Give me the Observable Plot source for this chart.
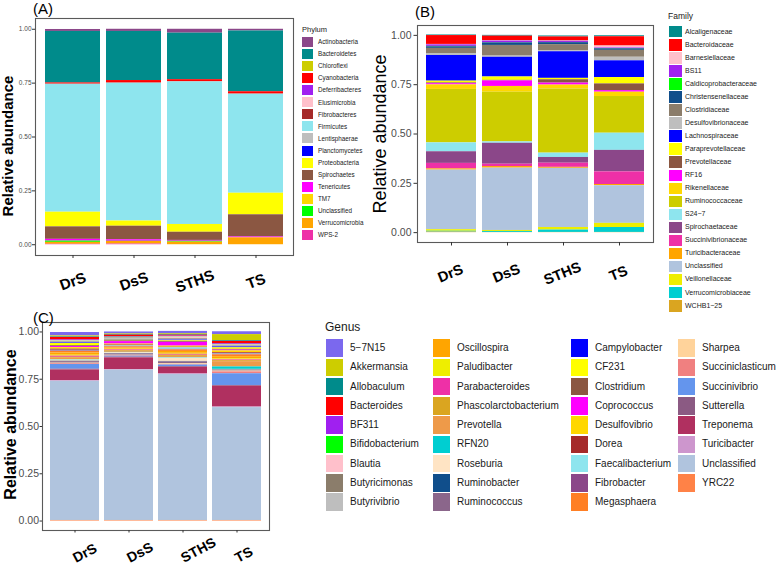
<!DOCTYPE html>
<html>
<head>
<meta charset="utf-8">
<script src="https://cdn.jsdelivr.net/npm/d3@7"></script>
<script src="https://cdn.jsdelivr.net/npm/@observablehq/plot@0.6"></script>
<style>
  html, body { margin: 0; padding: 0; background: #fff; }
  #root { position: relative; width: 778px; height: 569px; overflow: hidden; background: #fff;
          font-family: "Liberation Sans", Arial, sans-serif; }
  .lbl { position: absolute; white-space: nowrap; color: #1a1a1a; }
  .sw { position: absolute; }
</style>
</head>
<body>
<div id="root"></div>
<script>
const FONT = "Liberation Sans, Arial, sans-serif";
const groups = ["DrS", "DsS", "STHS", "TS"];

// ---------- Panel A: Phylum ----------
const phyla = ["Actinobacteria","Bacteroidetes","Chloroflexi","Cyanobacteria","Deferribacteres","Elusimicrobia",
  "Fibrobacteres","Firmicutes","Lentisphaerae","Planctomycetes","Proteobacteria","Spirochaetes","Tenericutes",
  "TM7","Unclassified","Verrucomicrobia","WPS-2"];
const phylumColors = ["#8B4789","#008B8B","#CDCD00","#FF0000","#A020F0","#FFC0CB","#A52A2A","#8EE5EE","#BEBEBE",
  "#0000FF","#FFFF00","#8B5742","#FF00FF","#FFD700","#00FF00","#FFA500","#EE30A7"];
const phylumDrS  = [0.009,0.239,0,0.006,0,0,0,0.594,0,0,0.068,0.058,0.008,0,0.006,0.009,0.002];
const phylumDsS  = [0.010,0.228,0,0.012,0,0,0,0.640,0,0,0.024,0.063,0.007,0,0.001,0.012,0.003];
const phylumSTHS = [0.018,0.216,0,0.010,0,0,0,0.662,0,0,0.036,0.038,0.004,0,0.004,0.012,0];
const phylumTS   = [0.008,0.282,0,0.011,0,0,0,0.460,0,0,0.100,0.103,0.004,0,0,0.032,0];

// ---------- Panel B: Family ----------
const families = ["Alcaligenaceae","Bacteroidaceae","Barnesiellaceae","BS11","Caldicoprobacteraceae",
  "Christensenellaceae","Clostridiaceae","Desulfovibrionaceae","Lachnospiraceae","Paraprevotellaceae",
  "Prevotellaceae","RF16","Rikenellaceae","Ruminococcaceae","S24\u22127","Spirochaetaceae","Succinivibrionaceae",
  "Turicibacteraceae","Unclassified","Veillonellaceae","Verrucomicrobiaceae","WCHB1\u221225"];
const familyColors = ["#008B8B","#FF0000","#FFC0CB","#A020F0","#00FF00","#104E8B","#8B7D6B","#BEBEBE","#0000FF",
  "#FFFF00","#8B5742","#FF00FF","#FFD700","#CDCD00","#8EE5EE","#8B4789","#EE30A7","#FFA500","#B0C4DE",
  "#EEEE00","#00CED1","#DAA520"];
const familyDrS  = [0.003,0.045,0.002,0.008,0.002,0.008,0.026,0.010,0.130,0.009,0.004,0.006,0.023,0.271,0.045,0.059,0.028,0.006,0.302,0.008,0.004,0.003];
const familyDsS  = [0.004,0.023,0.002,0.008,0.001,0.013,0.054,0.006,0.100,0.017,0.003,0.028,0.029,0.252,0.007,0.106,0.012,0.008,0.316,0.005,0.005,0.001];
const familySTHS = [0.005,0.020,0.002,0.006,0.001,0.010,0.030,0.006,0.135,0.007,0.017,0.010,0.020,0.325,0.022,0.029,0.021,0.005,0.300,0.013,0.012,0.001];
const familyTS   = [0.005,0.047,0.010,0.003,0.001,0.008,0.035,0.018,0.085,0.032,0.034,0.008,0.022,0.186,0.087,0.109,0.064,0.006,0.191,0.021,0.025,0.001];

// ---------- Panel C: Genus (stack order, top first) ----------
const genera = ["5\u22127N15","Akkermansia","Allobaculum","Bacteroides","BF311","Bifidobacterium","Blautia",
  "Butyricimonas","Butyrivibrio","Campylobacter","CF231","Clostridium","Coprococcus","Desulfovibrio","Dorea",
  "Faecalibacterium","Fibrobacter","Megasphaera","Oscillospira","Paludibacter","Parabacteroides",
  "Phascolarctobacterium","Prevotella","RFN20","Roseburia","Ruminobacter","Ruminococcus","Sharpea",
  "Succiniclasticum","Succinivibrio","Sutterella","Treponema","Turicibacter","Unclassified","YRC22"];
const genusColors = ["#7B68EE","#CDCD00","#008B8B","#FF0000","#A020F0","#00FF00","#FFC0CB","#8B7D6B","#BEBEBE",
  "#0000FF","#FFFF00","#8B5742","#FF00FF","#FFD700","#A52A2A","#8EE5EE","#8B4789","#FF7F24","#FFA500",
  "#EEEE00","#EE30A7","#DAA520","#EE9A49","#00CED1","#FFE4C4","#104E8B","#8B668B","#FFD39B","#F08080",
  "#6495ED","#8B5A83","#B03060","#CD96CD","#B0C4DE","#FF8247"];
const genusDrS  = [0.018,0.005,0.003,0.013,0.003,0.002,0.003,0.004,0.004, 0.003,0.012,0.004,0.006,0.008,0.006,0.003,0.003,0.008,
                   0.012,0.005,0.006,0.005,0.008,0.002,0.006,0.002,0.008, 0.003,0.004,0.025,0.004,0.057,0.003,0.736,0.003];
const genusDsS  = [0.010,0.003,0.004,0.008,0.003,0.002,0.002,0.005,0.003, 0.003,0.004,0.004,0.013,0.005,0.005,0.003,0.002,0.006,
                   0.006,0.004,0.004,0.004,0.005,0.002,0.004,0.002,0.007, 0.002,0.003,0.005,0.004,0.062,0.003,0.795,0.003];
const genusSTHS = [0.012,0.004,0.004,0.005,0.003,0.002,0.008,0.004,0.004, 0.004,0.004,0.004,0.020,0.006,0.003,0.008,0.003,0.008,
                   0.010,0.005,0.005,0.006,0.006,0.003,0.018,0.002,0.010, 0.004,0.003,0.008,0.004,0.035,0.003,0.772,0.003];
const genusTS   = [0.015,0.032,0.004,0.012,0.004,0.002,0.003,0.004,0.004, 0.005,0.008,0.004,0.004,0.010,0.004,0.003,0.004,0.010,
                   0.012,0.005,0.004,0.005,0.028,0.013,0.003,0.002,0.004, 0.004,0.010,0.062,0.004,0.110,0.003,0.597,0.003];
// Legend layout of the genus key (column by column, as shown)
const genusLegendCols = [
  ["5\u22127N15","Akkermansia","Allobaculum","Bacteroides","BF311","Bifidobacterium","Blautia","Butyricimonas","Butyrivibrio"],
  ["Oscillospira","Paludibacter","Parabacteroides","Phascolarctobacterium","Prevotella","RFN20","Roseburia","Ruminobacter","Ruminococcus"],
  ["Campylobacter","CF231","Clostridium","Coprococcus","Desulfovibrio","Dorea","Faecalibacterium","Fibrobacter","Megasphaera"],
  ["Sharpea","Succiniclasticum","Succinivibrio","Sutterella","Treponema","Turicibacter","Unclassified","YRC22"]
];

const yTicks = [0, 0.25, 0.5, 0.75, 1];
const yTitle = "Relative abundance";

const root = document.getElementById("root");

function table(taxa, byGroup) {
  const out = [];
  groups.forEach((g, gi) => taxa.forEach((t, i) => out.push({group: g, taxon: t, value: byGroup[gi][i]})));
  return out;
}

function panel(o) {
  const svg = Plot.plot({
    width: o.width, height: o.height,
    marginLeft: o.ml, marginRight: o.mr, marginTop: o.mt, marginBottom: o.mb,
    style: {fontFamily: FONT, background: "transparent", overflow: "visible"},
    x: {domain: groups, paddingInner: 0.1, paddingOuter: 0.15},
    y: {domain: [-0.05, 1.05]},
    color: {domain: o.taxa, range: o.colors},
    marks: [
      Plot.barY(o.data, Plot.stackY({x: "group", y: "value", fill: "taxon", order: o.taxa.slice().reverse()})),
      Plot.frame({stroke: "#5a5a5a", strokeWidth: 1.1}),
      Plot.axisY({ticks: yTicks, tickFormat: d3.format(".2f"), tickSize: o.tick, tickPadding: o.yPad,
                  fontSize: o.yFont, stroke: "#333", fill: "#4d4d4d", label: null}),
      Plot.axisX({tickSize: o.tick, stroke: "#333", fill: "none", label: null}),
      Plot.text(groups, {x: d => d, y: -0.05, text: d => d, rotate: o.xRot, dx: o.xDx, dy: o.xDy,
                         textAnchor: o.xAnchor, fontSize: o.xFont, fontWeight: "bold", fill: "#000"}),
      Plot.text([yTitle], {frameAnchor: "left", textAnchor: "middle", text: d => d, rotate: -90, dx: o.tDx, dy: o.tDy,
                           fontSize: o.tFont, fontWeight: o.tWeight, fill: "#000"})
    ]
  });
  svg.style.position = "absolute";
  svg.style.left = o.left + "px";
  svg.style.top = o.top + "px";
  root.appendChild(svg);
}

function addText(txt, left, centerY, size, opts = {}) {
  const d = document.createElement("div");
  d.className = "lbl";
  d.textContent = txt;
  d.style.left = left + "px";
  d.style.top = (centerY - size * 0.6) + "px";
  d.style.fontSize = size + "px";
  d.style.lineHeight = (size * 1.2) + "px";
  if (opts.color) d.style.color = opts.color;
  if (opts.weight) d.style.fontWeight = opts.weight;
  root.appendChild(d);
}
function addSwatch(color, left, centerY, w, h) {
  const s = document.createElement("div");
  s.className = "sw";
  s.style.left = left + "px";
  s.style.top = (centerY - h / 2) + "px";
  s.style.width = w + "px";
  s.style.height = h + "px";
  s.style.background = color;
  root.appendChild(s);
}
function legendColumn(names, colorOf, o) {
  names.forEach((n, i) => {
    const cy = o.firstCenter + i * o.rowH;
    addSwatch(colorOf(n), o.swLeft, cy, o.swW, o.swH);
    addText(n, o.textLeft, cy, o.font, {color: "#1a1a1a"});
  });
}

// Panel A
panel({data: table(phyla, [phylumDrS, phylumDsS, phylumSTHS, phylumTS]), taxa: phyla, colors: phylumColors,
  left: 0, top: 0, width: 300, height: 300, ml: 35, mr: 7, mt: 18, mb: 45,
  tick: 3, yPad: 1, yFont: 6.5, xRot: -20, xDx: 0, xDy: 26, xAnchor: "middle", xFont: 15,
  tDx: -27, tDy: 9, tFont: 15, tWeight: "bold"});
// Panel B
panel({data: table(families, [familyDrS, familyDsS, familySTHS, familyTS]), taxa: families, colors: familyColors,
  left: 360, top: 0, width: 300, height: 300, ml: 57, mr: 7, mt: 25, mb: 58,
  tick: 3.5, yPad: 2.5, yFont: 10.5, xRot: -22, xDx: -1, xDy: 31, xAnchor: "middle", xFont: 14.5,
  tDx: -37, tDy: 0, tFont: 18, tWeight: "normal"});
// Panel C
panel({data: table(genera, [genusDrS, genusDsS, genusSTHS, genusTS]), taxa: genera, colors: genusColors,
  left: 0, top: 300, width: 280, height: 269, ml: 42, mr: 11, mt: 22, mb: 39,
  tick: 2.5, yPad: 1, yFont: 10.5, xRot: -28, xDx: -1, xDy: 28.5, xAnchor: "start", xFont: 14,
  tDx: -32, tDy: -2, tFont: 16, tWeight: "bold"});

// Panel tags
addText("(A)", 33, 9, 15, {color: "#000"});
addText("(B)", 415, 12, 15, {color: "#000"});
addText("(C)", 33, 318, 15, {color: "#000"});

// Legend A
const phylumColorOf = n => phylumColors[phyla.indexOf(n)];
addText("Phylum", 302, 29, 7.5, {color: "#1a1a1a"});
legendColumn(phyla, phylumColorOf, {firstCenter: 42, rowH: 12.06, swLeft: 302, swW: 11, swH: 10, textLeft: 318, font: 6.3});

// Legend B
const familyColorOf = n => familyColors[families.indexOf(n)];
addText("Family", 668, 16, 8.5, {color: "#1a1a1a"});
legendColumn(families, familyColorOf, {firstCenter: 31.7, rowH: 13.05, swLeft: 669, swW: 13, swH: 11.5, textLeft: 685, font: 7});

// Legend C
const genusColorOf = n => genusColors[genera.indexOf(n)];
addText("Genus", 325, 327, 12, {color: "#1a1a1a"});
const colSw = [326, 433, 571, 678];
genusLegendCols.forEach((col, ci) => {
  legendColumn(col, genusColorOf, {firstCenter: 348, rowH: 19.25, swLeft: colSw[ci], swW: 17, swH: 17.5, textLeft: colSw[ci] + 24, font: 10});
});
</script>
</body>
</html>
